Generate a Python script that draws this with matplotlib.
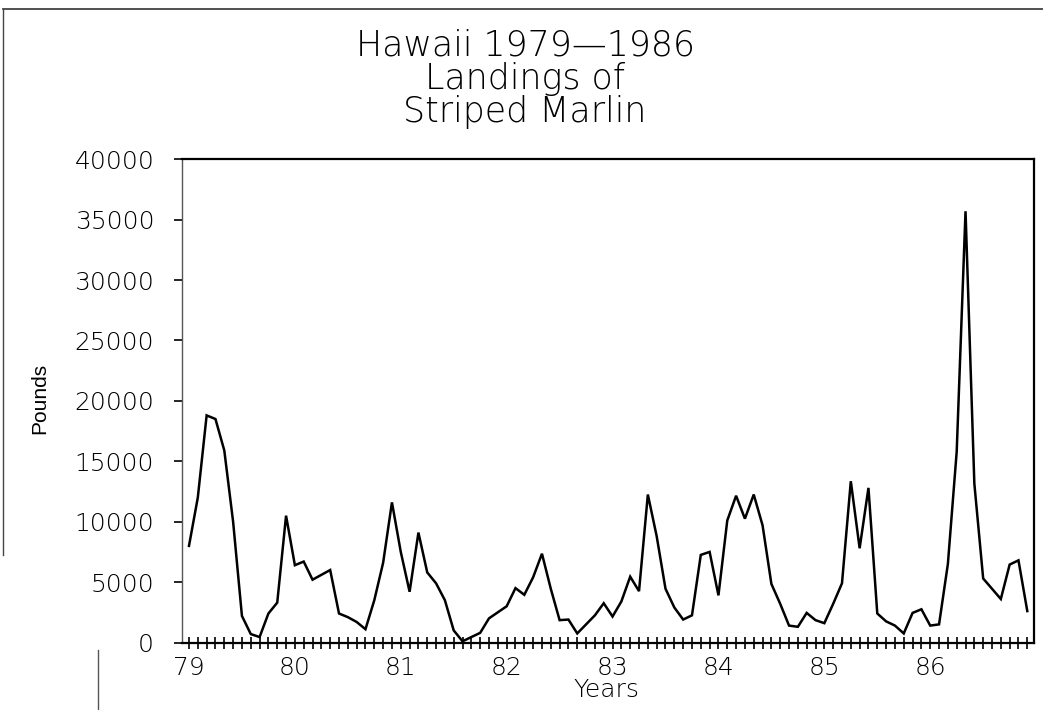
import numpy as np
import matplotlib
matplotlib.use("Agg")
import matplotlib.pyplot as plt
from matplotlib.lines import Line2D
from matplotlib.ticker import MultipleLocator, FixedLocator

# Monthly landings (pounds), Jan..Dec of each year
y1979 = [8000, 12000, 18800, 18500, 15900, 10000, 2200, 700, 450, 2400, 3300, 10500]
y1980 = [6400, 6700, 5200, 5600, 6000, 2400, 2100, 1700, 1100, 3500, 6600, 11600]
y1981 = [7500, 4200, 9100, 5800, 4900, 3500, 1000, 100, 450, 800, 2000, 2500]
y1982 = [3000, 4500, 3950, 5400, 7350, 4450, 1850, 1900, 750, 1500, 2250, 3250]
y1983 = [2150, 3400, 5450, 4250, 12250, 8800, 4450, 2900, 1900, 2250, 7250, 7500]
y1984 = [3900, 10100, 12150, 10250, 12250, 9700, 4850, 3200, 1400, 1300, 2450, 1850]
y1985 = [1600, 3200, 4900, 13350, 7800, 12800, 2400, 1750, 1400, 750, 2450, 2750]
y1986 = [1400, 1500, 6500, 15800, 35700, 13150, 5300, 4450, 3600, 6450, 6800, 2600]

year_labels = ["79", "80", "81", "82", "83", "84", "85", "86"]
y_ticks = [0, 5000, 10000, 15000, 20000, 25000, 30000, 35000, 40000]

pounds = np.array(y1979 + y1980 + y1981 + y1982 + y1983 + y1984 + y1985 + y1986, dtype=float)
t = 79 + np.arange(len(pounds)) / 12.0
year_pos = [79 + k for k in range(len(year_labels))]

W, H = 1043, 710
fig = plt.figure(figsize=(W / 100, H / 100), dpi=100)
fig.patch.set_facecolor("white")

ax = fig.add_axes([182 / W, 1 - 642.5 / H, (1034 - 182) / W, (642.5 - 159.3) / H])
ax.plot(t, pounds, color="black", lw=1.8, solid_joinstyle="miter")

ax.set_xlim(78.934, 86.98)
ax.set_ylim(0, 40000)

for side in ["top", "right", "bottom"]:
    ax.spines[side].set_linewidth(1.6)
    ax.spines[side].set_color("black")
ax.spines["left"].set_linewidth(1.0)
ax.spines["left"].set_color("#555555")

ax.xaxis.set_major_locator(FixedLocator(year_pos))
ax.set_xticklabels(year_labels)
ax.xaxis.set_minor_locator(MultipleLocator(1 / 12))
ax.tick_params(axis="x", which="both", direction="inout", length=8, width=1.2,
               color="black", pad=6)
ax.tick_params(axis="x", which="major", labelsize=18)

ax.yaxis.set_major_locator(FixedLocator(y_ticks))
ax.set_yticklabels([str(v) for v in y_ticks])
ax.tick_params(axis="y", which="major", direction="out", length=6, width=1.2,
               color="black", pad=14, labelsize=18)

for lab in ax.get_xticklabels() + ax.get_yticklabels():
    lab.set_family("DejaVu Sans")
    lab.set_fontweight("light")

# Title (three lines)
title_lines = ["Hawaii 1979\u20141986", "Landings of", "Striped Marlin"]
title_y = [45, 79, 112]
for txt, yy in zip(title_lines, title_y):
    fig.text(525 / W, 1 - yy / H, txt, ha="center", va="center", fontsize=25,
             family="DejaVu Sans", fontweight="light", color="black")

fig.text(40 / W, 1 - 398 / H, "Pounds", rotation=90, ha="center", va="center",
         fontsize=15, family="Liberation Sans", color="black")
fig.text(606 / W, 1 - 690 / H, "Years", ha="center", va="center", fontsize=18,
         family="DejaVu Sans", fontweight="light", color="black")

# scanned page border
fig.add_artist(Line2D([3 / W, 1.0], [1 - 9 / H, 1 - 9 / H], transform=fig.transFigure,
                      color="#333333", lw=1.2))
fig.add_artist(Line2D([3 / W, 3 / W], [1 - 9 / H, 1 - 555 / H], transform=fig.transFigure,
                      color="#444444", lw=1.0))
fig.add_artist(Line2D([98 / W, 98 / W], [1 - 650 / H, 0.0], transform=fig.transFigure,
                      color="#555555", lw=1.0))

fig.savefig("out.png", dpi=100, facecolor="white")
